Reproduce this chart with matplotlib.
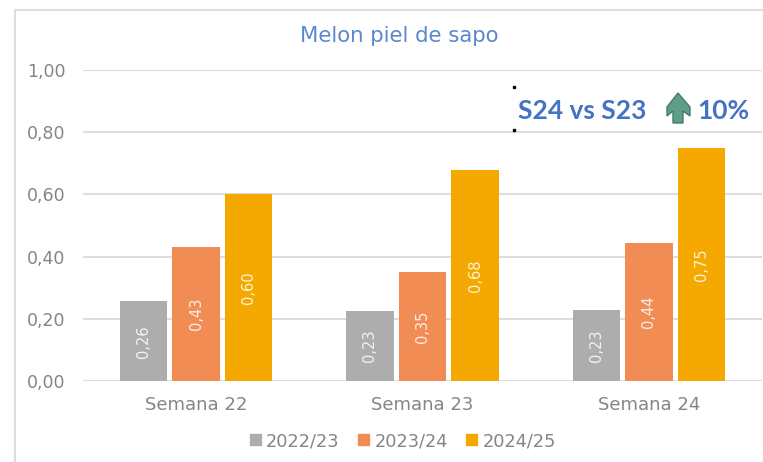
import matplotlib
matplotlib.use('Agg')
import matplotlib.pyplot as plt
import numpy as np
from matplotlib.lines import Line2D
from matplotlib.patches import Polygon, Patch

categories = ['Semana 22', 'Semana 23', 'Semana 24']
seasons = ['2022/23', '2023/24', '2024/25']
values_2223 = [0.256, 0.226, 0.229]
values_2324 = [0.432, 0.35, 0.443]
values_2425 = [0.60, 0.68, 0.75]
yticks = [0.0, 0.2, 0.4, 0.6, 0.8, 1.0]

W, H = 763, 462
GREY = '#858585'
GRID = '#DDDDDD'
BLUE = '#4472C4'
colors = ['#ADADAD', '#F28C55', '#F5A900']

plt.rcParams['font.family'] = ['DejaVu Sans']

def comma(v):
    return f'{v:.2f}'.replace('.', ',')

fig = plt.figure(figsize=(W / 100, H / 100), dpi=100)
ax = fig.add_axes([83 / W, 1 - 381 / H, 679 / W, 311 / H])

x = np.arange(len(categories))
series = [values_2223, values_2324, values_2425]
for i, vals in enumerate(series):
    bars = ax.bar(x + (i - 1) * 0.232, vals, 0.21, color=colors[i], zorder=3)
    for b, v in zip(bars, vals):
        ax.text(b.get_x() + b.get_width() / 2, v / 2, comma(v), rotation=90,
                ha='center', va='center', color='#FFFFFF', fontsize=10.5,
                alpha=0.85, zorder=4)

ax.set_xlim(-0.5, 2.5)
ax.set_ylim(0, 1)
ax.set_yticks(yticks)
ax.set_yticklabels([comma(t) for t in yticks])
ax.set_xticks(x)
ax.set_xticklabels(categories)
ax.tick_params(axis='both', length=0, labelcolor=GREY)
ax.tick_params(axis='y', labelsize=12.5, pad=12.5)
ax.tick_params(axis='x', labelsize=13, pad=11)
ax.grid(axis='y', color=GRID, lw=1.5, zorder=0)
for s in ax.spines.values():
    s.set_visible(False)

handles = [Patch(color=c) for c in colors]
fig.legend(handles, seasons, loc='center', bbox_to_anchor=(403 / W, 1 - 441 / H),
           ncol=3, frameon=False, fontsize=12.8, labelcolor=GREY,
           handlelength=0.6, handleheight=0.6, handletextpad=0.3, columnspacing=1.05)

fig.text(399 / W, 1 - 36 / H, 'Melon piel de sapo', color='#5B86D0', fontsize=15.3,
         ha='center', va='center')

# caja exterior de la imagen
fig.add_artist(Line2D([15 / W, 15 / W], [0, 1 - 10 / H], color=GRID, lw=1.5))
fig.add_artist(Line2D([15 / W, 1], [1 - 10 / H, 1 - 10 / H], color=GRID, lw=1.5))

# texto S24 vs S23 con la flecha
fig.text(518 / W, 1 - 111 / H, 'S24 vs S23', color=BLUE, fontsize=19, fontweight='bold',
         family='Lato', ha='left', va='center')
fig.text(697 / W, 1 - 111 / H, '10%', color=BLUE, fontsize=19, fontweight='bold',
         family='Lato', ha='left', va='center')
arrow = [(678, 93), (690, 107), (690, 116), (683, 111), (683, 123), (673, 123),
         (673, 111), (667, 116), (667, 107)]
fig.add_artist(Polygon([(px / W, 1 - py / H) for px, py in arrow], closed=True,
                       transform=fig.transFigure, facecolor='#5E9E86', edgecolor='#3F7F68', lw=1))
for py in (87, 130):
    fig.add_artist(Line2D([513.5 / W], [1 - py / H], marker='s', ms=1.5, color='black', lw=0))

fig.savefig('out.png', dpi=100)
